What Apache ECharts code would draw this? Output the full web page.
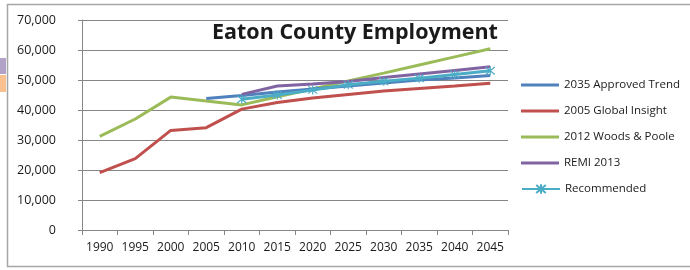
<!DOCTYPE html>
<html>
<head>
<meta charset="utf-8">
<script src="https://cdn.jsdelivr.net/npm/echarts@6/dist/echarts.min.js"></script>
<style>
  html, body { margin: 0; padding: 0; background: #fff; }
  #chart { width: 690px; height: 270px; }
</style>
</head>
<body>
<div id="chart"></div>
<script>
// 数据
const years = ['1990', '1995', '2000', '2005', '2010', '2015', '2020', '2025', '2030', '2035', '2040', '2045']
const approvedTrend = [null, null, null, 43800, 44800, 46000, 47000, 48000, 49000, 50000, 50700, 51500]
const globalInsight = [19100, 23800, 33200, 34100, 40300, 42500, 44000, 45200, 46300, 47200, 48000, 48900]
const woodsPoole = [31200, 37000, 44300, 43000, 41700, 44400, 47000, 49700, 52300, 55000, 57700, 60400]
const remi2013 = [null, null, null, null, 45200, 48000, 48700, 49500, 50800, 52000, 53200, 54400]
const recommended = [null, null, null, null, 43600, 45000, 46700, 48400, 49600, 50600, 51800, 53100]
const yTicks = { min: 0, max: 70000, step: 10000 }

const FONT = '"Open Sans", sans-serif'
const STAR = 'path://M0,0L10,10M10,0L0,10M5,-1L5,11'
const legendText = { fontFamily: FONT, fontSize: 11.5, color: '#1a1a1a' }

const lineSeries = (name, data, color) => ({
  name,
  type: 'line',
  data,
  symbol: 'none',
  lineStyle: { color, width: 3 },
  itemStyle: { color }
})

const chart = echarts.init(document.getElementById('chart'))
chart.setOption({
  animation: false,
  title: {
    text: 'Eaton County Employment',
    left: 207,
    top: 17,
    textStyle: { fontFamily: FONT, fontWeight: 'bold', fontSize: 21.5, color: '#1a1a1a' }
  },
  graphic: [
    { type: 'rect', shape: { x: 7.5, y: 4.5, width: 700, height: 262 }, style: { fill: 'none', stroke: '#a6a6a6', lineWidth: 1.5 } },
    { type: 'rect', shape: { x: 0, y: 58, width: 6, height: 16 }, style: { fill: '#b3a2c7' } },
    { type: 'rect', shape: { x: 0, y: 75, width: 6, height: 17 }, style: { fill: '#fac090' } }
  ],
  grid: { left: 82, right: 182, top: 20, bottom: 40 },
  legend: [
    {
      orient: 'vertical',
      left: 521,
      top: 79,
      padding: 0,
      itemWidth: 38,
      itemHeight: 3,
      itemGap: 14,
      icon: 'rect',
      textStyle: legendText,
      data: ['2035 Approved Trend', '2005 Global Insight', '2012 Woods & Poole', 'REMI 2013']
    },
    {
      orient: 'vertical',
      left: 521,
      top: 183,
      padding: 0,
      itemWidth: 38,
      itemHeight: 12,
      textStyle: legendText,
      data: ['Recommended']
    }
  ],
  xAxis: {
    type: 'category',
    data: years,
    boundaryGap: true,
    axisLine: { lineStyle: { color: '#868686' } },
    axisTick: { show: true, length: 5, interval: 0, lineStyle: { color: '#868686' } },
    axisLabel: { fontFamily: FONT, fontSize: 12, color: '#1a1a1a', margin: 12, interval: 0 }
  },
  yAxis: {
    type: 'value',
    min: yTicks.min,
    max: yTicks.max,
    interval: yTicks.step,
    axisLine: { show: true, lineStyle: { color: '#868686' } },
    axisTick: { show: true, length: 4, lineStyle: { color: '#868686' } },
    splitLine: { lineStyle: { color: '#868686' } },
    axisLabel: {
      fontFamily: FONT, fontSize: 12.5, color: '#1a1a1a', margin: 26,
      formatter: v => v.toLocaleString('en-US')
    }
  },
  series: [
    lineSeries('2005 Global Insight', globalInsight, '#C0504D'),
    lineSeries('2012 Woods & Poole', woodsPoole, '#9BBB59'),
    lineSeries('2035 Approved Trend', approvedTrend, '#4F81BD'),
    lineSeries('REMI 2013', remi2013, '#8064A2'),
    {
      name: 'Recommended',
      type: 'line',
      data: recommended,
      symbol: STAR,
      symbolSize: 9,
      showAllSymbol: true,
      lineStyle: { color: '#4BACC6', width: 3 },
      itemStyle: { color: '#4BACC6', borderColor: '#4BACC6', borderWidth: 1.2 }
    }
  ]
})

window.addEventListener('resize', () => chart.resize())
</script>
</body>
</html>
